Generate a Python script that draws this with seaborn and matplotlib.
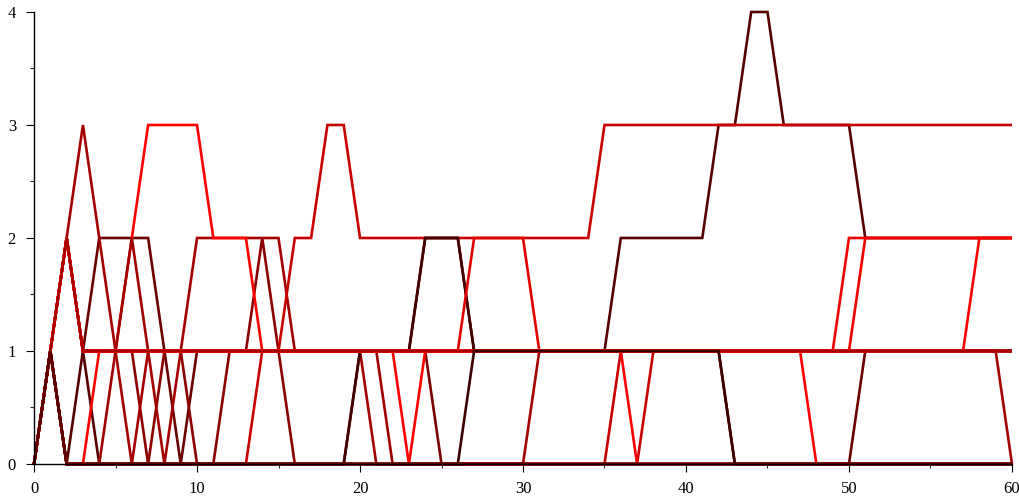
import pandas as pd
import matplotlib
matplotlib.use("Agg")
import matplotlib.pyplot as plt
import seaborn as sns

# x positions (steps 0..60)
steps = list(range(61))

# each walk, values at x = 0..60
walk_s1 = [0, 1, 2, 3, 2, 1, 0, 1, 0, 1,
           2, 2, 2, 2, 2, 2, 1, 1, 1, 1,
           1, 0, 0, 0, 0, 0, 0, 0, 0, 0,
           0, 1, 1, 1, 1, 1, 1, 1, 1, 1,
           1, 1, 1, 1, 1, 1, 1, 1, 1, 1,
           1, 1, 1, 1, 1, 1, 1, 1, 1, 1,
           0]
walk_s2 = [0, 1, 0, 1, 0, 0, 0, 0, 0, 0,
           0, 0, 0, 0, 0, 0, 0, 0, 0, 0,
           1, 1, 1, 1, 2, 2, 2, 1, 1, 1,
           1, 1, 1, 1, 1, 1, 2, 2, 2, 2,
           2, 2, 3, 3, 4, 4, 3, 3, 3, 3,
           3, 2, 2, 2, 2, 2, 2, 2, 2, 2,
           2]
walk_s16 = [0, 1, 0, 0, 0, 0, 0, 0, 0, 0,
            0, 0, 0, 0, 0, 0, 0, 0, 0, 0,
            1, 1, 1, 1, 2, 2, 2, 1, 1, 1,
            1, 1, 1, 1, 1, 1, 1, 1, 1, 1,
            1, 1, 1, 1, 1, 1, 1, 1, 1, 1,
            1, 1, 1, 1, 1, 1, 1, 1, 1, 1,
            1]
walk_s3 = [0, 1, 2, 1, 2, 2, 2, 2, 1, 0,
           1, 1, 1, 1, 1, 1, 1, 1, 1, 1,
           1, 1, 1, 1, 1, 1, 1, 1, 1, 1,
           1, 1, 1, 1, 1, 1, 1, 1, 1, 1,
           1, 1, 1, 0, 0, 0, 0, 0, 0, 0,
           0, 1, 1, 1, 1, 1, 1, 1, 1, 1,
           1]
walk_e = [0, 1, 0, 0, 1, 1, 2, 3, 3, 3,
          3, 2, 2, 2, 1, 1, 1, 1, 1, 1,
          1, 1, 1, 0, 1, 1, 1, 1, 1, 1,
          1, 1, 1, 1, 1, 1, 1, 0, 0, 0,
          0, 0, 0, 0, 0, 0, 0, 0, 0, 0,
          0, 0, 0, 0, 0, 0, 0, 0, 0, 0,
          0]
walk_s5 = [0, 1, 2, 1, 1, 1, 1, 1, 1, 1,
           1, 1, 1, 1, 1, 1, 1, 1, 1, 1,
           1, 1, 1, 1, 1, 1, 1, 1, 1, 1,
           1, 1, 1, 1, 1, 1, 1, 1, 1, 1,
           1, 1, 1, 1, 1, 1, 1, 1, 0, 0,
           0, 0, 0, 0, 0, 0, 0, 0, 0, 0,
           0]
walk_s6 = [0, 1, 2, 1, 1, 1, 1, 1, 1, 1,
           1, 1, 1, 1, 1, 1, 1, 1, 1, 1,
           1, 1, 1, 1, 1, 1, 1, 1, 1, 1,
           1, 1, 1, 1, 1, 1, 1, 1, 1, 1,
           1, 1, 1, 1, 1, 1, 1, 1, 1, 1,
           2, 2, 2, 2, 2, 2, 2, 2, 2, 2,
           2]
walk_s7 = [0, 1, 2, 1, 1, 1, 1, 1, 1, 1,
           1, 1, 1, 1, 1, 1, 1, 1, 1, 1,
           1, 1, 1, 1, 1, 1, 1, 1, 1, 1,
           1, 1, 1, 1, 1, 1, 1, 1, 1, 1,
           1, 1, 1, 1, 1, 1, 1, 1, 1, 1,
           1, 2, 2, 2, 2, 2, 2, 2, 2, 2,
           2]
walk_s8 = [0, 1, 2, 1, 1, 1, 1, 1, 1, 1,
           1, 1, 1, 1, 1, 1, 1, 1, 1, 1,
           1, 1, 1, 1, 1, 1, 1, 1, 1, 1,
           1, 1, 1, 1, 1, 1, 1, 1, 1, 1,
           1, 1, 1, 1, 1, 1, 1, 1, 1, 1,
           1, 1, 1, 1, 1, 1, 1, 1, 2, 2,
           2]
walk_c = [0, 1, 0, 0, 0, 0, 0, 0, 0, 0,
          0, 0, 0, 0, 1, 1, 2, 2, 3, 3,
          2, 2, 2, 2, 2, 2, 2, 2, 2, 2,
          2, 2, 2, 2, 2, 3, 3, 3, 3, 3,
          3, 3, 3, 3, 3, 3, 3, 3, 3, 3,
          3, 3, 3, 3, 3, 3, 3, 3, 3, 3,
          3]
walk_s9 = [0, 1, 2, 1, 1, 1, 1, 1, 1, 1,
           1, 1, 1, 1, 1, 1, 1, 1, 1, 1,
           1, 1, 1, 1, 1, 1, 1, 2, 2, 2,
           2, 1, 1, 1, 1, 1, 1, 1, 1, 1,
           1, 1, 1, 1, 1, 1, 1, 1, 1, 1,
           1, 1, 1, 1, 1, 1, 1, 1, 1, 1,
           1]
walk_s10 = [0, 1, 0, 0, 0, 0, 0, 0, 0, 0,
            0, 0, 0, 0, 0, 0, 0, 0, 0, 0,
            0, 0, 0, 0, 0, 0, 0, 0, 0, 0,
            0, 0, 0, 0, 0, 0, 1, 1, 1, 1,
            1, 1, 1, 1, 1, 1, 1, 1, 1, 1,
            1, 1, 1, 1, 1, 1, 1, 1, 1, 1,
            1]
walk_s11 = [0, 1, 0, 0, 0, 0, 0, 0, 0, 0,
            0, 0, 0, 0, 0, 0, 0, 0, 0, 0,
            0, 0, 0, 0, 0, 0, 0, 0, 0, 0,
            0, 0, 0, 0, 0, 0, 0, 0, 1, 1,
            1, 1, 1, 1, 1, 1, 1, 1, 1, 1,
            1, 1, 1, 1, 1, 1, 1, 1, 1, 1,
            1]
walk_s12 = [0, 1, 0, 0, 0, 1, 2, 1, 1, 1,
            1, 1, 1, 1, 1, 1, 1, 1, 1, 1,
            1, 1, 0, 0, 0, 0, 0, 0, 0, 0,
            0, 0, 0, 0, 0, 0, 0, 0, 0, 0,
            0, 0, 0, 0, 0, 0, 0, 0, 0, 0,
            0, 0, 0, 0, 0, 0, 0, 0, 0, 0,
            0]
walk_s13 = [0, 1, 2, 1, 1, 1, 1, 0, 1, 1,
            0, 0, 1, 1, 2, 1, 0, 0, 0, 0,
            0, 0, 0, 0, 0, 0, 0, 0, 0, 0,
            0, 0, 0, 0, 0, 0, 0, 0, 0, 0,
            0, 0, 0, 0, 0, 0, 0, 0, 0, 0,
            0, 0, 0, 0, 0, 0, 0, 0, 0, 0,
            0]
walk_s14 = [0, 1, 2, 1, 1, 1, 1, 1, 1, 1,
            1, 1, 1, 1, 1, 1, 1, 1, 1, 1,
            1, 1, 1, 1, 1, 0, 0, 0, 0, 0,
            0, 0, 0, 0, 0, 0, 0, 0, 0, 0,
            0, 0, 0, 0, 0, 0, 0, 0, 0, 0,
            0, 0, 0, 0, 0, 0, 0, 0, 0, 0,
            0]
walk_s15 = [0, 1, 0, 0, 0, 0, 0, 0, 0, 0,
            0, 0, 0, 0, 0, 0, 0, 0, 0, 0,
            0, 0, 0, 0, 0, 0, 0, 1, 1, 1,
            1, 1, 1, 1, 1, 1, 1, 1, 1, 1,
            1, 1, 1, 0, 0, 0, 0, 0, 0, 0,
            0, 0, 0, 0, 0, 0, 0, 0, 0, 0,
            0]
walk_h = [0, 1, 2, 1, 1, 1, 1, 1, 1, 1,
          1, 1, 1, 1, 1, 1, 1, 1, 1, 1,
          1, 1, 1, 1, 1, 1, 1, 1, 1, 1,
          1, 1, 1, 1, 1, 1, 1, 1, 1, 1,
          1, 1, 1, 1, 1, 1, 1, 1, 1, 1,
          1, 1, 1, 1, 1, 1, 1, 1, 1, 1,
          1]
walk_i = [0, 1, 0, 0, 0, 0, 0, 0, 0, 0,
          0, 0, 0, 0, 0, 0, 0, 0, 0, 0,
          0, 0, 0, 0, 0, 0, 0, 0, 0, 0,
          0, 0, 0, 0, 0, 0, 0, 0, 0, 0,
          0, 0, 0, 0, 0, 0, 0, 0, 0, 0,
          0, 0, 0, 0, 0, 0, 0, 0, 0, 0,
          0]

# draw order (later ones on top) and colours
walks = {
    "s3": walk_s3, "s13": walk_s13, "s14": walk_s14, "s1": walk_s1,
    "s2": walk_s2, "c": walk_c, "s16": walk_s16, "s9": walk_s9,
    "s10": walk_s10, "s11": walk_s11, "e": walk_e, "s12": walk_s12,
    "s5": walk_s5, "s6": walk_s6, "s7": walk_s7, "s8": walk_s8,
    "h": walk_h, "s15": walk_s15, "i": walk_i,
}
colors = {
    "s3": "#6a0000", "s13": "#8c0000", "s14": "#7a0000", "s1": "#a50000",
    "s2": "#560000", "c": "#c80000", "s16": "#420000", "s9": "#e00000",
    "s10": "#c80000", "s11": "#c80000", "e": "#ff0000", "s12": "#a00000",
    "s5": "#ff0000", "s6": "#f20000", "s7": "#f20000", "s8": "#ff0000",
    "h": "#a80000", "s15": "#3c0000", "i": "#5a0000",
}

rows = []
for name, vals in walks.items():
    for xv, yv in zip(steps, vals):
        rows.append((name, xv, yv))
df = pd.DataFrame(rows, columns=["walk", "x", "y"])

sns.set_style("ticks")
plt.rcParams["font.family"] = ["Liberation Serif", "DejaVu Serif"]

fig = plt.figure(figsize=(10.19, 4.97), dpi=100)
ax = fig.add_axes([0.0334, 0.0664, 0.9597, 0.9095])

sns.lineplot(data=df, x="x", y="y", hue="walk", hue_order=list(walks.keys()),
             palette=colors, estimator=None, errorbar=None, legend=False,
             linewidth=1.9, ax=ax)
for ln in ax.lines:
    ln.set_clip_on(False)
    ln.set_solid_joinstyle("miter")
    ln.set_solid_capstyle("butt")

ax.set_xlim(0, 60)
ax.set_ylim(0, 4)
ax.set_xticks(range(0, 61, 10))
ax.set_xticks(range(5, 60, 10), minor=True)
ax.set_yticks([0, 1, 2, 3, 4])
ax.set_yticks([0.5, 1.5, 2.5, 3.5], minor=True)
ax.tick_params(which="major", direction="out", length=6, width=0.8,
               labelsize=12, colors="black")
ax.tick_params(which="minor", direction="out", length=3, width=0.8)
ax.tick_params(axis="y", which="major", pad=7)
ax.tick_params(axis="x", which="major", pad=6)
ax.set_xlabel("")
ax.set_ylabel("")
sns.despine(ax=ax)
for sp in ["left", "bottom"]:
    ax.spines[sp].set_linewidth(1)
    ax.spines[sp].set_color("black")

fig.savefig("out.png", dpi=100)
